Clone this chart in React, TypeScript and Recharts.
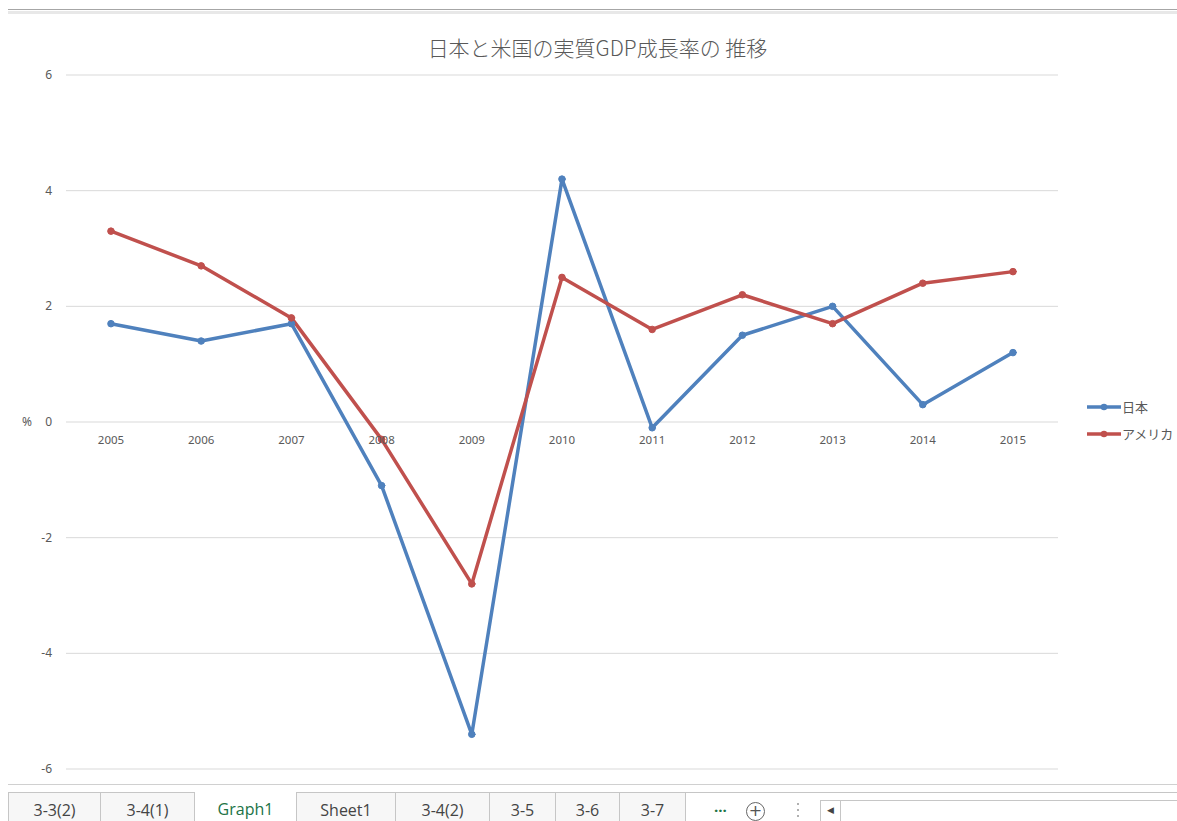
import React from "react";
import { LineChart, Line, XAxis, YAxis, CartesianGrid } from "recharts";

// 実質GDP成長率 (%)
const years = ["2005", "2006", "2007", "2008", "2009", "2010", "2011", "2012", "2013", "2014", "2015"];
const japan = [1.7, 1.4, 1.7, -1.1, -5.4, 4.2, -0.1, 1.5, 2.0, 0.3, 1.2];
const usa = [3.3, 2.7, 1.8, -0.3, -2.8, 2.5, 1.6, 2.2, 1.7, 2.4, 2.6];
const yTicks = [-6, -4, -2, 0, 2, 4, 6];
const seriesNames = ["日本", "アメリカ"];
const seriesColors = ["#4F81BD", "#C0504D"];
const sheetTabs = ["3-3(2)", "3-4(1)", "Graph1", "Sheet1", "3-4(2)", "3-5", "3-6", "3-7"];
const activeTab = "Graph1";

const data = years.map((year, i) => ({ year, japan: japan[i], usa: usa[i] }));

const CHART_W = 1177;
const CHART_H = 790;
const MARGIN = { top: 75, right: 119, bottom: 1, left: 16 };
const X_AXIS_H = 20;
const Y_MIN = -6;
const Y_MAX = 6;
const PLOT_H = CHART_H - MARGIN.top - MARGIN.bottom - X_AXIS_H;
const ZERO_Y = MARGIN.top + (PLOT_H * Y_MAX) / (Y_MAX - Y_MIN);

const textColor = "#595959";
const font = "'Noto Sans', 'Noto Sans CJK JP', sans-serif";

const YTick = (props: any) => {
  const { x, y, payload } = props;
  return (
    <g>
      {payload.value === 0 && (
        <text x={x - 26} y={y} dy={4} textAnchor="end" fontSize={12} fill={textColor} fontFamily={font}>
          %
        </text>
      )}
      <text x={x - 6} y={y} dy={4} textAnchor="end" fontSize={12} fill={textColor} fontFamily={font}>
        {payload.value}
      </text>
    </g>
  );
};

// category labels sit just under the zero line, like Excel
const XTick = (props: any) => {
  const { x, payload } = props;
  return (
    <text x={x} y={ZERO_Y + 22} textAnchor="middle" fontSize={11.5} fill={textColor} fontFamily={font}>
      {payload.value}
    </text>
  );
};

const tabWidths: Record<string, number> = {
  "3-3(2)": 93,
  "3-4(1)": 94,
  Graph1: 102,
  Sheet1: 99,
  "3-4(2)": 94,
  "3-5": 66,
  "3-6": 64,
  "3-7": 66,
};

const Dot = ({ top }: { top: number }) => (
  <div style={{ position: "absolute", left: 797, top, width: 2, height: 2, background: "#b0b0b0" }} />
);

const SheetTabs = () => (
  <div style={{ position: "absolute", left: 0, top: 784, width: 1177, height: 37 }}>
    <div style={{ position: "absolute", left: 8, right: 0, top: 0, borderTop: "1px solid #d0d0d0" }} />
    <div style={{ position: "absolute", left: 8, top: 8, display: "flex", height: 40 }}>
      {sheetTabs.map((t) => {
        const active = t === activeTab;
        return (
          <div
            key={t}
            style={{
              width: tabWidths[t],
              boxSizing: "border-box",
              height: 40,
              borderTop: active ? "none" : "1px solid #c6c6c6",
              borderRight: "1px solid #c6c6c6",
              borderLeft: t === sheetTabs[0] ? "1px solid #c6c6c6" : "none",
              background: active ? "#ffffff" : "#f7f7f7",
              color: active ? "#217346" : "#444444",
              fontFamily: "'Open Sans', sans-serif",
              fontSize: 16,
              textAlign: "center",
              paddingTop: 6,
            }}
          >
            {t}
          </div>
        );
      })}
      <div style={{ width: 68, height: 40, boxSizing: "border-box", borderTop: "1px solid #c6c6c6", position: "relative" }}>
        <span style={{ position: "absolute", left: 28, top: 3, color: "#217346", fontSize: 15, fontWeight: 700, fontFamily: "'Open Sans', sans-serif" }}>...</span>
        <span
          style={{
            position: "absolute",
            left: 60,
            top: 9,
            width: 19,
            height: 19,
            borderRadius: 10,
            border: "1.5px solid #666",
            boxSizing: "border-box",
            textAlign: "center",
            lineHeight: "15px",
            fontSize: 16,
            color: "#555",
            fontFamily: "'DejaVu Sans', sans-serif",
          }}
        >
          +
        </span>
      </div>
    </div>
    <div style={{ position: "absolute", left: 686, right: 0, top: 8, borderTop: "1px solid #c6c6c6" }} />
    <Dot top={19} />
    <Dot top={25} />
    <Dot top={31} />
    <div style={{ position: "absolute", left: 820, top: 16, width: 360, height: 30, border: "1px solid #c6c6c6", boxSizing: "border-box", background: "#fff" }}>
      <div style={{ position: "absolute", left: 0, top: 0, width: 20, height: 30, borderRight: "1px solid #c6c6c6", boxSizing: "border-box", fontSize: 9, color: "#444", textAlign: "center", paddingTop: 4 }}>◀</div>
    </div>
  </div>
);

const App: React.FC = () => {
  return (
    <div style={{ position: "absolute", left: 0, top: 0, width: 1177, height: 821, background: "#fff", overflow: "hidden" }}>
      {/* window frame lines */}
      <div style={{ position: "absolute", left: 8, right: 0, top: 9, height: 1, background: "#a6a6a6" }} />
      <div style={{ position: "absolute", left: 8, right: 0, top: 11, height: 3, background: "#e8e8e8" }} />

      <div
        style={{
          position: "absolute",
          left: 0,
          width: 1177,
          top: 32,
          textAlign: "center",
          paddingLeft: 18,
          boxSizing: "border-box",
          fontFamily: "'Noto Sans CJK JP', sans-serif",
          fontSize: 21,
          color: textColor,
          fontWeight: 300,
        }}
      >
        日本と米国の実質GDP成長率の 推移
      </div>

      <div style={{ position: "absolute", left: 0, top: 0 }}>
        <LineChart width={CHART_W} height={CHART_H} data={data} margin={MARGIN}>
          <CartesianGrid vertical={false} stroke="#d9d9d9" strokeWidth={1} />
          <XAxis
            dataKey="year"
            axisLine={false}
            tickLine={false}
            height={X_AXIS_H}
            tick={<XTick />}
            interval={0}
            padding={{ left: 45, right: 45 }}
          />
          <YAxis
            width={50}
            domain={[Y_MIN, Y_MAX]}
            ticks={yTicks}
            axisLine={false}
            tickLine={false}
            tick={<YTick />}
          />
          <Line
            type="linear"
            dataKey="japan"
            name={seriesNames[0]}
            stroke={seriesColors[0]}
            strokeWidth={3.5}
            strokeLinejoin="round"
            strokeLinecap="round"
            dot={{ r: 3.3, fill: seriesColors[0], stroke: seriesColors[0], strokeWidth: 1 }}
            activeDot={false}
            isAnimationActive={false}
          />
          <Line
            type="linear"
            dataKey="usa"
            name={seriesNames[1]}
            stroke={seriesColors[1]}
            strokeWidth={3.5}
            strokeLinejoin="round"
            strokeLinecap="round"
            dot={{ r: 3.3, fill: seriesColors[1], stroke: seriesColors[1], strokeWidth: 1 }}
            activeDot={false}
            isAnimationActive={false}
          />
        </LineChart>
      </div>

      {/* legend */}
      <div style={{ position: "absolute", left: 1086, top: 393 }}>
        {seriesNames.map((name, i) => (
          <div key={name} style={{ display: "flex", alignItems: "center", height: 27 }}>
            <svg width={36} height={10}>
              <line x1={1} y1={5} x2={35} y2={5} stroke={seriesColors[i]} strokeWidth={3.5} />
              <circle cx={18} cy={5} r={3.3} fill={seriesColors[i]} />
            </svg>
            <span style={{ fontFamily: "'Noto Sans CJK JP', sans-serif", fontSize: 13, color: textColor }}>{name}</span>
          </div>
        ))}
      </div>

      <SheetTabs />
    </div>
  );
};

export default App;
